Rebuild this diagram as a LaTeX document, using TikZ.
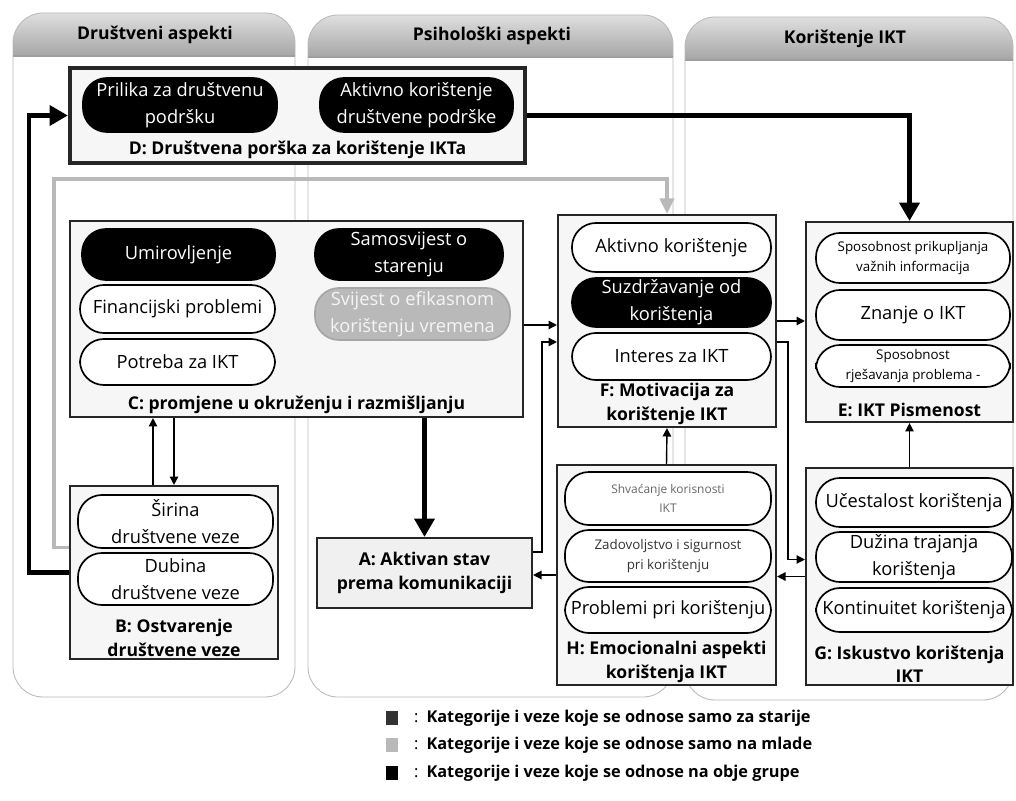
\documentclass[tikz,border=0pt]{standalone}
\usepackage{fontspec}
\setmainfont{Open Sans}
\usepackage{tikz}
\usetikzlibrary{positioning,fit,calc,arrows.meta}

\tikzset{
  lane/.style={draw=gray!55, line width=0.6pt},
  lanehead/.style={top color=gray!25, bottom color=gray!70},
  headtxt/.style={font=\fontsize{12.5}{15}\selectfont\bfseries},
  box/.style={draw=black!85, line width=1.5pt, fill=gray!7, inner sep=0pt},
  pill/.style={draw=black, line width=1.2pt, fill=white, rounded corners=0.6cm,
    inner sep=0pt, align=center, font=\fontsize{13}{19}\selectfont},
  blackpill/.style={pill, fill=black, text=white},
  graypill/.style={pill, draw=gray!70, fill=gray!55, text=gray!8},
  smallpill/.style={pill, font=\fontsize{9.5}{14}\selectfont},
  lbl/.style={font=\fontsize{12.5}{17}\selectfont\bfseries, align=center, inner sep=1pt},
  thinarrow/.style={>={Triangle[length=6pt,width=6pt]}, ->, line width=1pt},
  bigarrow/.style={>={Triangle[length=13pt,width=14pt]}, ->, line width=3.2pt},
  grayarrow/.style={>={Triangle[length=11pt,width=10pt]}, ->, line width=2.6pt, color=gray!55},
  sq/.style={minimum width=0.3cm, minimum height=0.33cm, inner sep=0pt},
  lgd/.style={font=\fontsize{11.6}{15}\selectfont\bfseries, inner sep=0pt, anchor=west},
}

\begin{document}
\begin{tikzpicture}[x=0.025cm, y=-0.025cm]
    \useasboundingbox (0,0) rectangle (1016,800);

    % swim lanes
    \foreach \xa/\xb/\ya/\yh/\yb/\hx/\i/\txt in {
        13/295/13/56/697/155/1/Društveni aspekti,
        308/673/15/57/697/492/2/Psihološki aspekti,
        685/1013/17/60/700/845/3/Korištenje IKT}{
      \draw[lane] (\xa,\yh) [rounded corners=0.75cm] -- (\xa,\yb) -- (\xb,\yb) -- (\xb,\yh);
      \shade[lanehead] (\xa,\yh) [rounded corners=0.75cm] -- (\xa,\ya) -- (\xb,\ya) -- (\xb,\yh);
      \draw[lane] (\xa,\yh) [rounded corners=0.75cm] -- (\xa,\ya) -- (\xb,\ya) -- (\xb,\yh);
      \draw[gray!75, line width=0.8pt] (\xa,\yh) -- (\xb,\yh);
      \node[headtxt] (hd\i) at (\hx,{(\ya+\yh)/2}) {\txt};
    }

    % category boxes
    \node[box, line width=3pt, fit={(70,68) (525,163)}] (D) {};
    \node[box, fit={(70,221) (523,417)}] (C) {};
    \node[box, fit={(558,215) (776,427)}] (F) {};
    \node[box, fit={(806,222) (1013,422)}] (E) {};
    \node[box, fit={(806,468) (1013,685)}] (G) {};
    \node[box, fit={(557,465) (776,685)}] (H) {};
    \node[box, fit={(70,486) (278,659)}] (B) {};
    \node[box, fill=gray!12, fit={(317,538) (532,608)}] (A) {};

    % D
    \node[blackpill, minimum width=4.85cm, minimum height=1.35cm] (d1) at (180,105) {Prilika za društvenu\\podršku};
    \node[blackpill, minimum width=4.825cm, minimum height=1.35cm] (d2) at (416.5,105) {Aktivno korištenje\\društvene podrške};
    \node[lbl, above=3pt of D.south] (Dl) {D: Društvena porška za korištenje IKTa};
    % C
    \node[blackpill, minimum width=4.825cm, minimum height=1.275cm] (c1) at (178.5,254.5) {Umirovljenje};
    \node[pill, minimum width=4.875cm, minimum height=1.2cm] (c2) at (177.5,309) {Financijski problemi};
    \node[pill, minimum width=4.875cm, minimum height=1.15cm] (c3) at (177.5,362) {Potreba za IKT};
    \node[blackpill, minimum width=4.7cm, minimum height=1.275cm] (c4) at (409,254.5) {Samosvijest o\\starenju};
    \node[graypill, minimum width=4.875cm, minimum height=1.3cm] (c5) at (412.5,314) {Svijest o efikasnom\\korištenju vremena};
    \node[lbl, above=2pt of C.south] (Cl) {C: promjene u okruženju i razmišljanju};
    % F
    \node[pill, minimum width=4.975cm, minimum height=1.225cm] (f1) at (671.5,247.5) {Aktivno korištenje};
    \node[blackpill, minimum width=4.975cm, minimum height=1.225cm] (f2) at (671.5,302.5) {Suzdržavanje od\\korištenja};
    \node[pill, minimum width=4.975cm, minimum height=1.175cm] (f3) at (671.5,356.5) {Interes za IKT};
    \node[lbl, above=1pt of F.south] (Fl) {F: Motivacija za\\korištenje IKT};
    % E
    \node[smallpill, minimum width=4.85cm, minimum height=1.25cm] (e1) at (913,258) {Sposobnost prikupljanja\\važnih informacija};
    \node[pill, minimum width=4.85cm, minimum height=1.25cm] (e2) at (913,315) {Znanje o IKT};
    \node[smallpill, minimum width=4.85cm, minimum height=1.05cm] (e3) at (913,366) {Sposobnost\\rješavanja problema -};
    \node[lbl, above=3pt of E.south] (El) {E: IKT Pismenost};
    % H
    \node[pill, text=gray!80!black, font=\fontsize{8.5}{13}\selectfont, minimum width=5.15cm, minimum height=1.325cm] (h1) at (668,498.5) {Shvaćanje korisnosti\\IKT};
    \node[smallpill, text=black!80, minimum width=5.15cm, minimum height=1.3cm] (h2) at (668,556) {Zadovoljstvo i sigurnost\\pri korištenju};
    \node[pill, minimum width=5.15cm, minimum height=1.15cm] (h3) at (668,610) {Problemi pri korištenju};
    \node[lbl, above=1pt of H.south] (Hl) {H: Emocionalni aspekti\\korištenja IKT};
    % G
    \node[pill, minimum width=4.9cm, minimum height=1.225cm] (g1) at (914,502.5) {Učestalost korištenja};
    \node[pill, minimum width=4.9cm, minimum height=1.25cm] (g2) at (914,557) {Dužina trajanja\\korištenja};
    \node[pill, minimum width=4.9cm, minimum height=1.1cm] (g3) at (914,610) {Kontinuitet korištenja};
    \node[lbl, above=1pt of G.south] (Gl) {G: Iskustvo korištenja\\IKT};
    % B
    \node[pill, minimum width=4.875cm, minimum height=1.325cm] (b1) at (175.5,521.5) {Širina\\društvene veze};
    \node[pill, minimum width=4.875cm, minimum height=1.3cm] (b2) at (175.5,579) {Dubina\\društvene veze};
    \node[lbl, above=1pt of B.south] (Bl) {B: Ostvarenje\\društvene veze};
    % A
    \node[lbl] (Al) at (A.center) {A: Aktivan stav\\prema komunikaciji};

    % thick links
    \draw[bigarrow] (B.west) -- ++(-40,0) |- (D.west);
    \draw[bigarrow] (D.east) -| (E.north);
    \draw[bigarrow] (C.south -| A.north) -- (A.north);
    % grey link
    \draw[grayarrow] ($(B.west)+(0,-25)$) -- ++(-15,0) |- ($(F.north)+(0,-35)$) -- (F.north);

    % thin links
    \coordinate (bc) at ($(B.north)+(-21,0)$);
    \draw[thinarrow] (bc) -- (bc |- C.south);
    \draw[thinarrow] (C.south -| B.north) -- (B.north);
    \draw[thinarrow] ($(C.east)+(0,6)$) -- ($(C.east -| F.west)+(0,6)$);
    \draw[thinarrow] ($(A.east)+(0,-21)$) -- ++(9,0) |- ($(F.west)+(0,21)$);
    \draw[thinarrow] (H.west) -- (H.west -| A.east);
    \draw[thinarrow] (H.north) -- (F.south);
    \draw[thinarrow] (F.east) -- (F.east -| E.west);
    \draw[thinarrow] ($(F.east)+(0,21)$) -- ++(11,0) |- ($(G.west)+(0,-17)$);
    \draw[thinarrow] (G.west) -- (G.west -| H.east);
    \draw[thinarrow] (G.north) -- (E.south);

    % legend
    \node[sq, fill=black!80] (sq1) at (392,718) {};
    \node[sq, fill=gray!55] (sq2) at (392,745) {};
    \node[sq, fill=black] (sq3) at (392,773) {};
    \node[lgd, right=11pt of sq1] (lg1) {{\mdseries :}\enspace Kategorije i veze koje se odnose samo za starije};
    \node[lgd, right=11pt of sq2] (lg2) {{\mdseries :}\enspace Kategorije i veze koje se odnose samo na mlade};
    \node[lgd, right=11pt of sq3] (lg3) {{\mdseries :}\enspace Kategorije i veze koje se odnose na obje grupe};
\end{tikzpicture}
\end{document}
